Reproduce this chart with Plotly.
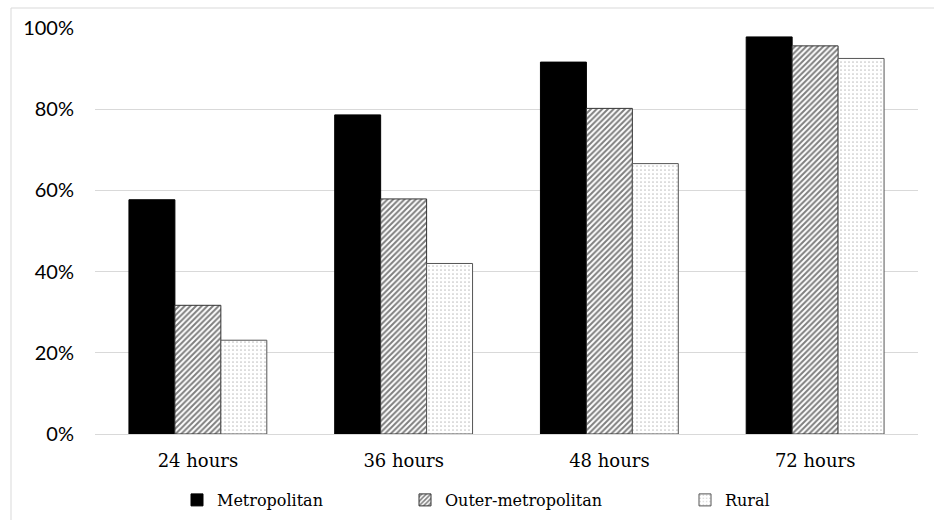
import plotly.graph_objects as go

categories = ["24 hours", "36 hours", "48 hours", "72 hours"]
metropolitan = [0.577, 0.786, 0.916, 0.978]
outer_metropolitan = [0.317, 0.579, 0.802, 0.956]
rural = [0.231, 0.420, 0.666, 0.925]
y_ticks = [0, 0.2, 0.4, 0.6, 0.8, 1.0]
y_tick_labels = ["0%", "20%", "40%", "60%", "80%", "100%"]

serif = "DejaVu Serif"
fig = go.Figure()
fig.add_trace(go.Bar(
    x=categories, y=metropolitan, name="Metropolitan",
    marker=dict(color="black", line=dict(color="black", width=1)),
    legend="legend",
))
fig.add_trace(go.Bar(
    x=categories, y=outer_metropolitan, name="Outer-metropolitan",
    marker=dict(color="white", line=dict(color="#333333", width=1),
                pattern=dict(shape="/", fgcolor="black", bgcolor="white",
                             size=4, solidity=0.5)),
    legend="legend2",
))
fig.add_trace(go.Bar(
    x=categories, y=rural, name="Rural",
    marker=dict(color="white", line=dict(color="#555555", width=1),
                pattern=dict(shape=".", fgcolor="#888888", bgcolor="white",
                             size=4, solidity=0.15)),
    legend="legend3",
))

W, H = 934, 520
ml, mr, mt, mb = 95, 16, 28, 86
pw = W - ml - mr
ph = H - mt - mb

def px2paper_x(px):
    return (px - ml) / pw

def px2paper_y(py):
    return (H - mb - py) / ph

leg_common = dict(orientation="h", xanchor="left", yanchor="middle",
                  font=dict(family=serif, size=16, color="black"),
                  bgcolor="rgba(0,0,0,0)", itemwidth=30, tracegroupgap=0)

fig.update_layout(
    width=W, height=H,
    margin=dict(l=ml, r=mr, t=mt, b=mb, autoexpand=False),
    paper_bgcolor="white", plot_bgcolor="white",
    barmode="group", bargap=0.33, bargroupgap=0,
    showlegend=True,
    legend=dict(x=px2paper_x(177), y=px2paper_y(500), **leg_common),
    legend2=dict(x=px2paper_x(405), y=px2paper_y(500), **leg_common),
    legend3=dict(x=px2paper_x(685), y=px2paper_y(500), **leg_common),
    xaxis=dict(tickfont=dict(family=serif, size=18, color="black"),
               showgrid=False, showline=True, linecolor="#d9d9d9", linewidth=1,
               ticks="", ticklabelstandoff=10, automargin=False),
    yaxis=dict(range=[0, 1], tickvals=y_ticks, ticktext=y_tick_labels,
               tickfont=dict(family="Lato", size=20, color="black"),
               showgrid=True, gridcolor="#d9d9d9", gridwidth=1,
               zeroline=True, zerolinecolor="#d9d9d9", zerolinewidth=1,
               showline=False, ticks="", ticklabelstandoff=20, automargin=False),
    shapes=[dict(type="rect", xref="paper", yref="paper",
                 x0=px2paper_x(11), x1=px2paper_x(945),
                 y0=px2paper_y(530), y1=px2paper_y(8),
                 line=dict(color="#d9d9d9", width=1), layer="below")],
)

fig.write_html("out.html", config={"displayModeBar": False},
               post_script="document.body.style.margin='0';")
